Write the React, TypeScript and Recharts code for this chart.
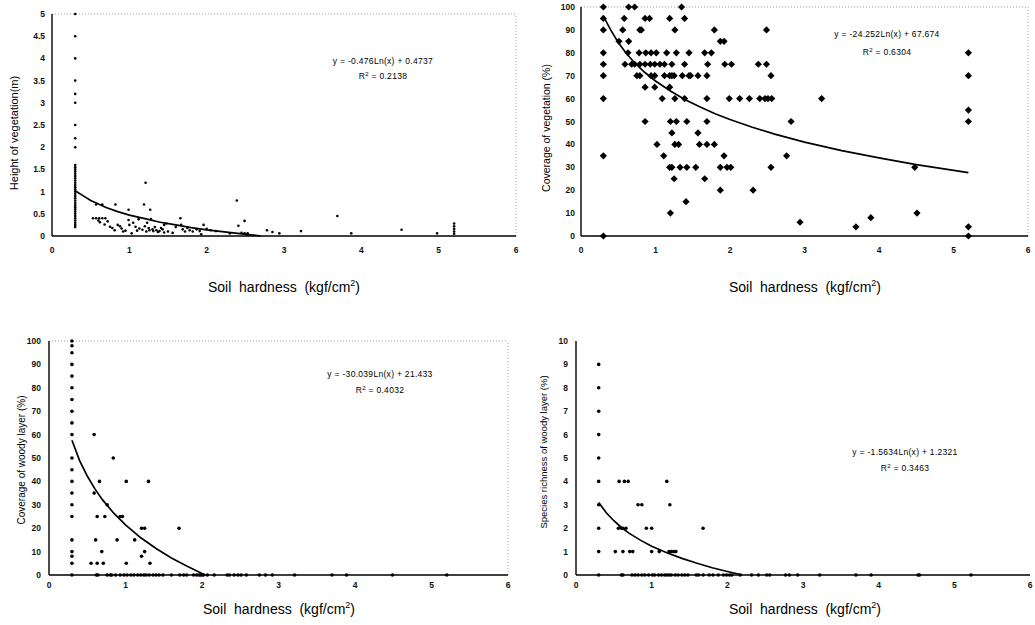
import { ScatterChart, Scatter, XAxis, YAxis, ReferenceLine } from 'recharts'

type Pt = [number, number]

// axis ticks
const HARDNESS_TICKS = [0, 1, 2, 3, 4, 5, 6]
const HEIGHT_TICKS = [0, 0.5, 1, 1.5, 2, 2.5, 3, 3.5, 4, 4.5, 5]
const PERCENT_TICKS = [0, 10, 20, 30, 40, 50, 60, 70, 80, 90, 100]
const RICHNESS_TICKS = [0, 1, 2, 3, 4, 5, 6, 7, 8, 9, 10]

// height of vegetation (m) vs soil hardness
const heightPoints: Pt[] = [
  [0.3, 5], [0.3, 4.5], [0.3, 4], [0.3, 3.5], [0.3, 3.2], [0.3, 3], [0.3, 2.5], [0.3, 2.2], [0.3, 2],
  [0.3, 1.6], [0.3, 1.55], [0.3, 1.5], [0.3, 1.45], [0.3, 1.4], [0.3, 1.35], [0.3, 1.3], [0.3, 1.25],
  [0.3, 1.2], [0.3, 1.15], [0.3, 1.1], [0.3, 1.05], [0.3, 1], [0.3, 0.95], [0.3, 0.9], [0.3, 0.85],
  [0.3, 0.8], [0.3, 0.75], [0.3, 0.7], [0.3, 0.65], [0.3, 0.6], [0.3, 0.55], [0.3, 0.5], [0.3, 0.45],
  [0.3, 0.4], [0.3, 0.35], [0.3, 0.3], [0.3, 0.25], [0.3, 0.2],
  [0.53, 0.4], [0.57, 0.4], [0.61, 0.4], [0.65, 0.4], [0.69, 0.4],
  [0.57, 0.71], [0.65, 0.71], [0.82, 0.71], [1.19, 0.71], [0.99, 0.59], [1.27, 0.59], [1.21, 1.2],
  [2.39, 0.8], [1.66, 0.4], [1.28, 0.38], [2.49, 0.34], [2.41, 0.23], [1.96, 0.25], [0.62, 0.31],
  [0.68, 0.26], [0.75, 0.21], [0.81, 0.13], [0.85, 0.25], [0.9, 0.17], [0.92, 0.1], [0.99, 0.36],
  [1, 0.25], [1.03, 0.06], [1.08, 0.21], [1.13, 0.17], [1.2, 0.22], [1.23, 0.3], [1.22, 0.1],
  [1.26, 0.13], [1.31, 0.11], [1.35, 0.13], [1.39, 0.11], [1.43, 0.15], [1.48, 0.28], [1.5, 0.1],
  [1.56, 0.07], [1.67, 0.25], [1.69, 0.15], [1.72, 0.1], [1.78, 0.13], [1.87, 0.15], [1.91, 0.11],
  [1.93, 0.04], [2.12, 0.11], [2.3, 0.06], [2.45, 0.07], [2.49, 0.06], [2.53, 0.06], [2.78, 0.13],
  [2.85, 0.09], [2.94, 0.06], [3.22, 0.11], [3.69, 0.45], [3.87, 0.06], [4.52, 0.14], [4.98, 0.06],
  [5.2, 0.28], [5.2, 0.22], [5.2, 0.16], [5.2, 0.1], [5.2, 0.05],
  [1.25, 0.18], [1.3, 0.15], [1.33, 0.2], [1.37, 0.09], [1.41, 0.18], [1.45, 0.08], [0.78, 0.18],
  [0.88, 0.22], [0.95, 0.12], [1.1, 0.12], [1.17, 0.14], [1.6, 0.2], [1.75, 0.18], [1.82, 0.1],
  [2, 0.16], [2.05, 0.13], [0.72, 0.33], [0.6, 0.35], [1.12, 0.38], [1.05, 0.3], [2.52, 0.03], [1.45, 0.25],
]
const heightTrend: Pt[] = [
  [0.3, 1.02], [0.4, 0.91], [0.5, 0.8], [0.6, 0.72], [0.7, 0.64], [0.85, 0.55], [1, 0.47], [1.2, 0.39],
  [1.4, 0.31], [1.6, 0.25], [1.8, 0.19], [2, 0.14], [2.2, 0.1], [2.4, 0.06], [2.6, 0.02], [2.7, 0],
]

// coverage of vegetation (%)
const coverPoints: Pt[] = [
  [0.3, 100], [0.64, 100], [0.72, 100], [1.35, 100],
  [0.3, 95], [0.58, 95], [0.86, 95], [0.92, 95], [1.19, 95], [1.39, 95],
  [0.3, 90], [0.56, 90], [0.79, 90], [0.81, 90], [1.26, 90], [1.79, 90], [2.49, 90],
  [0.51, 85], [0.64, 85], [1.87, 85], [1.92, 85],
  [0.3, 80], [0.63, 80], [0.78, 80], [0.87, 80], [0.94, 80], [1.01, 80], [1.15, 80], [1.28, 80],
  [1.45, 80], [1.66, 80], [1.75, 80], [5.2, 80],
  [0.3, 75], [0.59, 75], [0.68, 75], [0.72, 75], [0.79, 75], [0.86, 75], [0.93, 75], [0.99, 75],
  [1.06, 75], [1.12, 75], [1.22, 75], [1.39, 75], [1.7, 75], [1.93, 75], [2.02, 75], [2.38, 75], [2.49, 75],
  [0.3, 70], [0.75, 70], [0.79, 70], [0.94, 70], [0.99, 70], [1.12, 70], [1.19, 70], [1.22, 70],
  [1.25, 70], [1.36, 70], [1.45, 70], [1.47, 70], [1.57, 70], [1.69, 70], [2.55, 70], [5.2, 70],
  [0.86, 65], [0.99, 65], [1.19, 65],
  [0.3, 60], [1.09, 60], [1.26, 60], [1.39, 60], [1.69, 60], [1.99, 60], [2.13, 60], [2.26, 60],
  [2.4, 60], [2.47, 60], [2.51, 60], [2.56, 60], [3.23, 60],
  [5.2, 55],
  [0.86, 50], [1.2, 50], [1.28, 50], [1.42, 50], [1.69, 50], [2.82, 50], [5.2, 50],
  [1.22, 45], [1.57, 45],
  [1.02, 40], [1.26, 40], [1.31, 40], [1.59, 40], [1.69, 40], [1.79, 40],
  [0.3, 35], [1.11, 35], [1.92, 35], [2.76, 35],
  [1.19, 30], [1.22, 30], [1.33, 30], [1.42, 30], [1.54, 30], [1.87, 30], [1.96, 30], [2.01, 30],
  [2.55, 30], [4.48, 30],
  [1.25, 25], [1.66, 25],
  [1.87, 20], [2.31, 20],
  [1.41, 15], [1.2, 10], [4.51, 10], [3.89, 8], [2.94, 6], [3.69, 4], [5.2, 4],
  [0.3, 0], [5.2, 0],
]
const coverTrend: Pt[] = [
  [0.3, 96], [0.4, 89.9], [0.5, 84.5], [0.6, 80.1], [0.7, 76.3], [0.85, 71.6], [1, 67.7], [1.2, 63.3],
  [1.4, 59.5], [1.6, 56.3], [1.8, 53.4], [2, 50.9], [2.3, 47.5], [2.6, 44.5], [3, 41], [3.5, 37.3],
  [4, 34.1], [4.5, 31.2], [5.2, 27.7],
]

// coverage of woody layer (%)
const woodyPoints: Pt[] = [
  [0.3, 100], [0.3, 98], [0.3, 95], [0.3, 90], [0.3, 85], [0.3, 80], [0.3, 75], [0.3, 70], [0.3, 65],
  [0.3, 60], [0.3, 50], [0.3, 45], [0.3, 40], [0.3, 35], [0.3, 30], [0.3, 25], [0.3, 15], [0.3, 10],
  [0.3, 8], [0.3, 5], [0.3, 0],
  [0.59, 60], [0.84, 50], [0.66, 40], [1.01, 40], [1.3, 40], [0.59, 35], [0.76, 30],
  [0.63, 25], [0.73, 25], [0.93, 25], [0.96, 25], [1.21, 20], [1.25, 20], [1.7, 20],
  [0.61, 15], [0.89, 15], [1.12, 15], [0.69, 10], [1.25, 10], [1.21, 8],
  [0.55, 5], [0.63, 5], [0.71, 5], [1.01, 5], [1.32, 5],
  [0.62, 0], [0.64, 0], [0.76, 0], [0.8, 0], [0.82, 0], [0.87, 0], [0.93, 0], [0.98, 0], [1.02, 0],
  [1.07, 0], [1.11, 0], [1.16, 0], [1.2, 0], [1.24, 0], [1.27, 0], [1.31, 0], [1.36, 0], [1.4, 0],
  [1.44, 0], [1.49, 0], [1.6, 0], [1.71, 0], [1.76, 0], [1.8, 0], [1.89, 0], [1.93, 0], [1.96, 0],
  [1.98, 0], [2, 0], [2.02, 0], [2.07, 0], [2.16, 0], [2.33, 0], [2.36, 0], [2.42, 0], [2.47, 0],
  [2.51, 0], [2.58, 0], [2.75, 0], [2.83, 0], [2.92, 0], [3.21, 0], [3.7, 0], [3.89, 0], [4.49, 0], [5.2, 0],
]
const woodyTrend: Pt[] = [
  [0.3, 57.6], [0.4, 48.9], [0.5, 42.3], [0.6, 36.8], [0.7, 32.1], [0.85, 26.3], [1, 21.4], [1.2, 15.9],
  [1.4, 11.3], [1.6, 7.3], [1.8, 3.8], [2, 0.6], [2.04, 0],
]

// species richness of woody layer
const richnessPoints: Pt[] = [
  [0.3, 9], [0.3, 8], [0.3, 7], [0.3, 6], [0.3, 5], [0.3, 4], [0.3, 3], [0.3, 2], [0.3, 1], [0.3, 0],
  [0.57, 4], [0.64, 4], [0.69, 4], [1.2, 4],
  [0.82, 3], [0.87, 3], [1.24, 3],
  [0.56, 2], [0.6, 2], [0.62, 2], [0.66, 2], [0.93, 2], [1, 2], [1.68, 2],
  [0.52, 1], [0.62, 1], [0.71, 1], [0.75, 1], [1, 1], [1.1, 1], [1.23, 1], [1.26, 1], [1.29, 1], [1.32, 1],
  [0.6, 0], [0.62, 0], [0.74, 0], [0.78, 0], [0.82, 0], [0.87, 0], [0.91, 0], [0.96, 0], [1.01, 0],
  [1.04, 0], [1.09, 0], [1.13, 0], [1.17, 0], [1.2, 0], [1.23, 0], [1.26, 0], [1.31, 0], [1.35, 0],
  [1.4, 0], [1.44, 0], [1.48, 0], [1.59, 0], [1.62, 0], [1.68, 0], [1.76, 0], [1.81, 0], [1.88, 0],
  [1.95, 0], [1.99, 0], [2.03, 0], [2.06, 0], [2.17, 0], [2.32, 0], [2.41, 0], [2.52, 0], [2.56, 0],
  [2.77, 0], [2.82, 0], [2.93, 0], [3.22, 0], [3.7, 0], [3.9, 0], [4.52, 0], [4.54, 0], [5.22, 0],
]
const richnessTrend: Pt[] = [
  [0.3, 3.1], [0.4, 2.66], [0.5, 2.32], [0.6, 2.03], [0.7, 1.79], [0.85, 1.49], [1, 1.23], [1.2, 0.95],
  [1.4, 0.71], [1.6, 0.5], [1.8, 0.31], [2, 0.15], [2.2, 0],
]

const FONT = '"Liberation Sans", Arial, sans-serif'

const dot = (r: number) => (p: any) => <circle cx={p.cx} cy={p.cy} r={r} fill="#000" />
const diamond = (h: number) => (p: any) => (
  <polygon
    points={`${p.cx},${p.cy - h} ${p.cx + h},${p.cy} ${p.cx},${p.cy + h} ${p.cx - h},${p.cy}`}
    fill="#000"
  />
)
const noShape = () => <g />

const toXY = (pts: Pt[]) => pts.map(([x, y]) => ({ x, y }))

interface PanelCfg {
  left: number
  top: number
  width: number
  height: number
  margin: { top: number; right: number; bottom: number; left: number }
  yMax: number
  yTicks: number[]
  points: Pt[]
  trend: Pt[]
  shape: (p: any) => any
  xTickMargin: number
  yTickMargin: number
  border: boolean
}

function Panel({ cfg }: { cfg: PanelCfg }) {
  const tick = { fontSize: 8.5, fontWeight: 700, fill: '#111', fontFamily: FONT }
  return (
    <div style={{ position: 'absolute', left: cfg.left, top: cfg.top }}>
      <ScatterChart width={cfg.width} height={cfg.height} margin={cfg.margin}>
        <XAxis
          type="number" dataKey="x" domain={[0, 6]} ticks={HARDNESS_TICKS} height={30}
          tick={tick} tickLine={false} tickMargin={cfg.xTickMargin}
          axisLine={{ stroke: '#000', strokeWidth: 1.4 }}
        />
        <YAxis
          type="number" dataKey="y" domain={[0, cfg.yMax]} ticks={cfg.yTicks} width={40}
          tick={tick} tickLine={false} tickMargin={cfg.yTickMargin} interval={0}
          axisLine={{ stroke: '#000', strokeWidth: 1.4 }}
        />
        {cfg.border && <ReferenceLine y={cfg.yMax} stroke="#999" strokeDasharray="1 2" />}
        {cfg.border && <ReferenceLine x={6} stroke="#aaa" strokeDasharray="1 2" />}
        <Scatter data={toXY(cfg.points)} shape={cfg.shape} isAnimationActive={false} />
        <Scatter
          data={toXY(cfg.trend)} shape={noShape} isAnimationActive={false}
          line={{ stroke: '#000', strokeWidth: 1.7 }}
        />
      </ScatterChart>
    </div>
  )
}

const panels: PanelCfg[] = [
  {
    left: 0, top: 0, width: 522, height: 300, margin: { top: 14, right: 6, bottom: 34, left: 12 },
    yMax: 5, yTicks: HEIGHT_TICKS, points: heightPoints, trend: heightTrend, shape: dot(1.3),
    xTickMargin: 5, yTickMargin: 1, border: true,
  },
  {
    left: 520, top: 0, width: 515, height: 300, margin: { top: 7, right: 7, bottom: 34, left: 21 },
    yMax: 100, yTicks: PERCENT_TICKS, points: coverPoints, trend: coverTrend, shape: diamond(3.6),
    xTickMargin: 5, yTickMargin: 0, border: true,
  },
  {
    left: 0, top: 320, width: 520, height: 305, margin: { top: 21, right: 12, bottom: 20, left: 9 },
    yMax: 100, yTicks: PERCENT_TICKS, points: woodyPoints, trend: woodyTrend, shape: dot(1.8),
    xTickMargin: 1, yTickMargin: 2, border: true,
  },
  {
    left: 520, top: 320, width: 515, height: 305, margin: { top: 21, right: 5, bottom: 20, left: 16 },
    yMax: 10, yTicks: RICHNESS_TICKS, points: richnessPoints, trend: richnessTrend, shape: dot(1.8),
    xTickMargin: 1, yTickMargin: 2, border: false,
  },
]

const xTitles = [
  { cx: 284, top: 276 },
  { cx: 805, top: 276 },
  { cx: 279, top: 598 },
  { cx: 805, top: 598 },
]

const yTitles = [
  { text: 'Height of vegetation(m)', cx: 14, cy: 133, size: 11 },
  { text: 'Coverage of vegetation (%)', cx: 546, cy: 128, size: 10.5 },
  { text: 'Coverage of woody layer (%)', cx: 22, cy: 460, size: 10 },
  { text: 'Species richness of woody layer (%)', cx: 544, cy: 452, size: 9.5 },
]

const equations = [
  { eq: 'y = -0.476Ln(x) + 0.4737', r2: '0.2138', cx: 383, top: 55, lh: 13 },
  { eq: 'y = -24.252Ln(x) + 67.674', r2: '0.6304', cx: 887, top: 26, lh: 16 },
  { eq: 'y = -30.039Ln(x) + 21.433', r2: '0.4032', cx: 380, top: 367, lh: 14 },
  { eq: 'y = -1.5634Ln(x) + 1.2321', r2: '0.3463', cx: 905, top: 445, lh: 14 },
]

export default function App() {
  return (
    <div
      style={{
        position: 'absolute', left: 0, top: 0, width: 1035, height: 625,
        overflow: 'hidden', background: '#fff', fontFamily: FONT, color: '#000',
      }}
    >
      {panels.map((p, i) => <Panel key={i} cfg={p} />)}

      {xTitles.map((t, i) => (
        <div
          key={'x' + i}
          style={{
            position: 'absolute', left: t.cx, top: t.top, transform: 'translateX(-50%)',
            fontSize: 14, lineHeight: '14px', whiteSpace: 'pre',
          }}
        >
          {'Soil  hardness  (kgf/cm'}<sup style={{ fontSize: 9, verticalAlign: 6 }}>2</sup>)
        </div>
      ))}

      {yTitles.map((t, i) => (
        <div
          key={'y' + i}
          style={{
            position: 'absolute', left: t.cx, top: t.cy, whiteSpace: 'nowrap',
            transform: 'translate(-50%, -50%) rotate(-90deg)', fontSize: t.size, lineHeight: 1,
          }}
        >
          {t.text}
        </div>
      ))}

      {equations.map((e, i) => (
        <div
          key={'e' + i}
          style={{
            position: 'absolute', left: e.cx, top: e.top, transform: 'translateX(-50%)',
            fontSize: 8.5, lineHeight: `${e.lh}px`, textAlign: 'center', whiteSpace: 'nowrap',
            letterSpacing: 0.3,
          }}
        >
          <div>{e.eq}</div>
          <div>
            R<sup style={{ fontSize: 6, verticalAlign: 3 }}>2</sup> = {e.r2}
          </div>
        </div>
      ))}
    </div>
  )
}
